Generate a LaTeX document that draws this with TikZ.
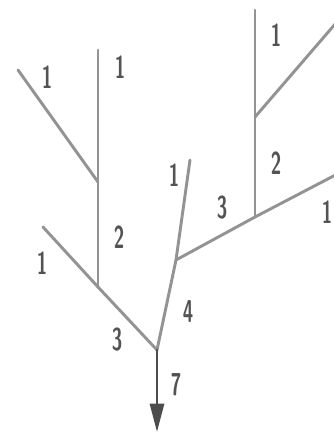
\documentclass[tikz,border=0pt]{standalone}
\usepackage{graphicx}
\usepackage{tikz}
\usetikzlibrary{arrows.meta, positioning}

\newcommand{\ord}[1]{\scalebox{0.6}[1]{#1}}

\begin{document}
\begin{tikzpicture}[x=0.03cm, y=-0.03cm,
  stream/.style={draw=gray!85, line width=2.5pt, line cap=round, line join=round},
  order/.style={text=gray!65!black, inner sep=0pt, font=\sffamily\bfseries\fontsize{27}{27}\selectfont}]
\useasboundingbox (0,0) rectangle (334,435);

% Sources and junctions
\coordinate (srcA) at (18,70);
\coordinate (srcB) at (98,50);
\coordinate (srcC) at (43,227);
\coordinate (srcD) at (190,160);
\coordinate (srcE) at (255,10);
\coordinate (srcF) at (336,23);
\coordinate (srcG) at (345,170);
\coordinate (jA) at (98,182);
\coordinate (jB) at (98,287);
\coordinate (jC) at (157,350);
\coordinate (jD) at (176,260);
\coordinate (jE) at (255,217);
\coordinate (jF) at (255,117);
\coordinate (mouth) at (157,432);

% Left basin
\draw[stream] (srcA) -- (jA);
\draw[stream] (srcB) -- (jA) -- (jB);
\draw[stream] (srcC) -- (jB) -- (jC);

% Right basin
\draw[stream] (srcE) -- (jF) -- (jE);
\draw[stream] (jF) -- (srcF);
\draw[stream] (srcG) -- (jE) -- (jD);
\draw[stream] (srcD) -- (jD) -- (jC);

% Outlet
\draw[stream, draw=gray!60!black, -{Triangle[length=0.85cm, width=0.42cm]}] (jC) -- (mouth);

% Stream orders
\node[order] (oA) at (47,77)   {\ord{1}};
\node[order] (oB) at (120,67)  {\ord{1}};
\node[order] (oC) at (119,237) {\ord{2}};
\node[order] (oD) at (42,263)  {\ord{1}};
\node[order] (oE) at (117,340) {\ord{3}};
\node[order] (oF) at (174,175) {\ord{1}};
\node[order] (oG) at (222,208) {\ord{3}};
\node[order] (oH) at (188,312) {\ord{4}};
\node[order] (oI) at (176,385) {\ord{7}};
\node[order] (oJ) at (276,35)  {\ord{1}};
\node[order] (oK) at (276,163) {\ord{2}};
\node[order] (oL) at (327,212) {\ord{1}};
\end{tikzpicture}
\end{document}
